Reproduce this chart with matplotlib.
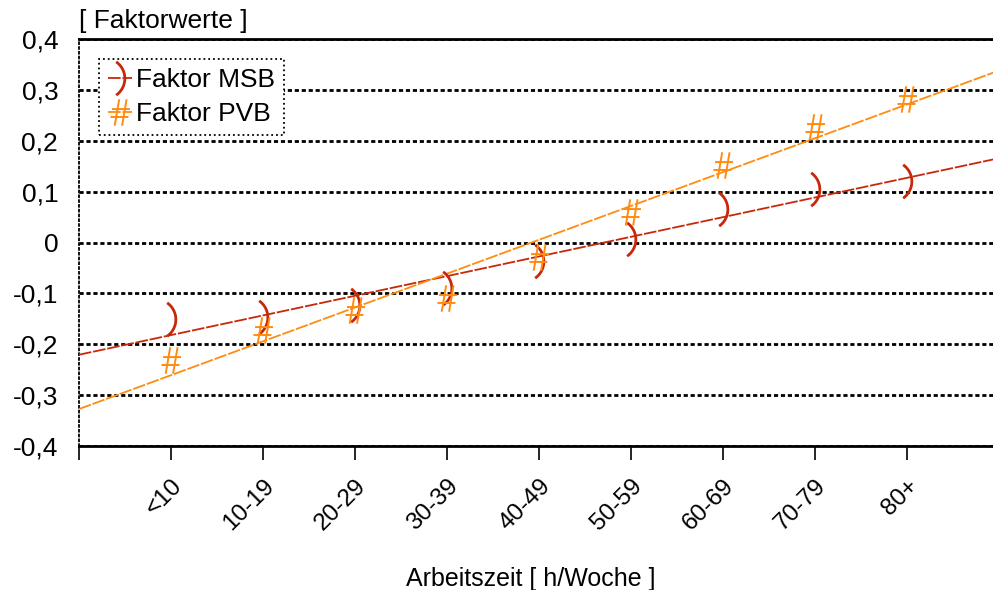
import numpy as np
import matplotlib.pyplot as plt
from matplotlib.path import Path
from matplotlib.transforms import ScaledTranslation

plt.rcParams['font.family'] = ['Liberation Sans', 'DejaVu Sans']

kategorien = ['<10', '10-19', '20-29', '30-39', '40-49', '50-59', '60-69', '70-79', '80+']
faktor_msb = [-0.151, -0.147, -0.123, -0.089, -0.036, 0.007, 0.066, 0.105, 0.121]
faktor_pvb = [-0.231, -0.172, -0.133, -0.110, -0.028, 0.060, 0.152, 0.228, 0.282]
y_ticks = [-0.4, -0.3, -0.2, -0.1, 0, 0.1, 0.2, 0.3, 0.4]
y_labels = ['-0,4', '-0,3', '-0,2', '-0,1', '0', '0,1', '0,2', '0,3', '0,4']

farbe_msb = '#c8280a'
farbe_pvb = '#ff8c10'
fs = 19

# Klammer-Marker ")" als Kreisbogen
t = np.radians(np.linspace(-55, 55, 30))
bx = np.cos(t)
bx = bx - (bx.max() + bx.min()) / 2
klammer = Path(np.column_stack([bx, np.sin(t)]))

# Raute-Marker "#" aus vier Strichen, senkrechte leicht schraeg
raute = Path([(-0.22, -0.5), (-0.05, 0.5), (0.06, -0.5), (0.23, 0.5),
              (-0.32, 0.13), (0.36, 0.13), (-0.38, -0.17), (0.30, -0.17)],
             [Path.MOVETO, Path.LINETO] * 4)

x = np.arange(1, len(kategorien) + 1)
xs = np.array([0, 10])
strich = (0, (7, 1))

fig = plt.figure(figsize=(9.93, 5.9), dpi=100)
ax = fig.add_axes([79 / 993, 144 / 590, 914 / 993, 407 / 590])

# lineare Trendlinien
k1 = np.polyfit(x, faktor_msb, 1)
k2 = np.polyfit(x, faktor_pvb, 1)
ax.plot(xs, np.polyval(k1, xs), color=farbe_msb, lw=1.3, ls=strich, zorder=3)
ax.plot(xs, np.polyval(k2, xs), color=farbe_pvb, lw=1.3, ls=strich, zorder=3)

ax.plot(x, faktor_msb, ls='none', marker=klammer, ms=24, mew=2,
        mec=farbe_msb, mfc='none', zorder=4)
ax.plot(x, faktor_pvb, ls='none', marker=raute, ms=19, mew=1.4,
        mec=farbe_pvb, mfc='none', zorder=4)

# Legendeneintraege mit Linie und Marker
h1, = ax.plot([], [], color=farbe_msb, lw=1.3, ls=strich, marker=klammer,
              ms=24, mew=2, mec=farbe_msb, mfc='none')
h2, = ax.plot([], [], color=farbe_pvb, lw=1.3, ls=strich, marker=raute,
              ms=19, mew=1.4, mec=farbe_pvb, mfc='none')
leg = ax.legend([h1, h2], ['Faktor MSB', 'Faktor PVB'], loc='upper left',
                bbox_to_anchor=(0.022, 0.951), borderaxespad=0, fancybox=False,
                fontsize=fs, handlelength=0.9, handletextpad=0.15,
                borderpad=0.35, labelspacing=0.38, framealpha=1)
leg.get_frame().set_edgecolor('black')
leg.get_frame().set_linestyle(':')
leg.get_frame().set_linewidth(1.3)

ax.set_xlim(0, 914 / 92)
ax.set_ylim(-0.4, 0.4)
ax.set_xticks(np.arange(0, 10))
ax.set_xticklabels([''] + kategorien, rotation=45, ha='right', va='top',
                   rotation_mode='anchor', fontsize=17.5)
versatz = ScaledTranslation(-4 / 72, -1 / 72, fig.dpi_scale_trans)
for lab in ax.get_xticklabels():
    lab.set_transform(lab.get_transform() + versatz)
ax.set_yticks(y_ticks)
ax.set_yticklabels(y_labels, fontsize=fs)
ax.tick_params(axis='y', length=0, pad=15)
ax.tick_params(axis='x', length=10, width=1.2, pad=11)

ax.grid(axis='y', color='black', lw=2, ls=(0, (1.5, 1)))
ax.grid(axis='x', visible=False)
ax.set_axisbelow(True)

ax.spines['right'].set_visible(False)
ax.spines['left'].set_linestyle(':')
ax.spines['left'].set_linewidth(1.3)
for s in ['top', 'bottom']:
    ax.spines[s].set_linestyle((0, (1.5, 1)))
    ax.spines[s].set_linewidth(2)

ax.text(0, 1.015, '[ Faktorwerte ]', transform=ax.transAxes, fontsize=fs,
        ha='left', va='bottom')
ax.set_xlabel('Arbeitszeit [ h/Woche ]', fontsize=18, labelpad=23)
ax.xaxis.label.set_x(0.494)

fig.savefig('out.png', dpi=100)
